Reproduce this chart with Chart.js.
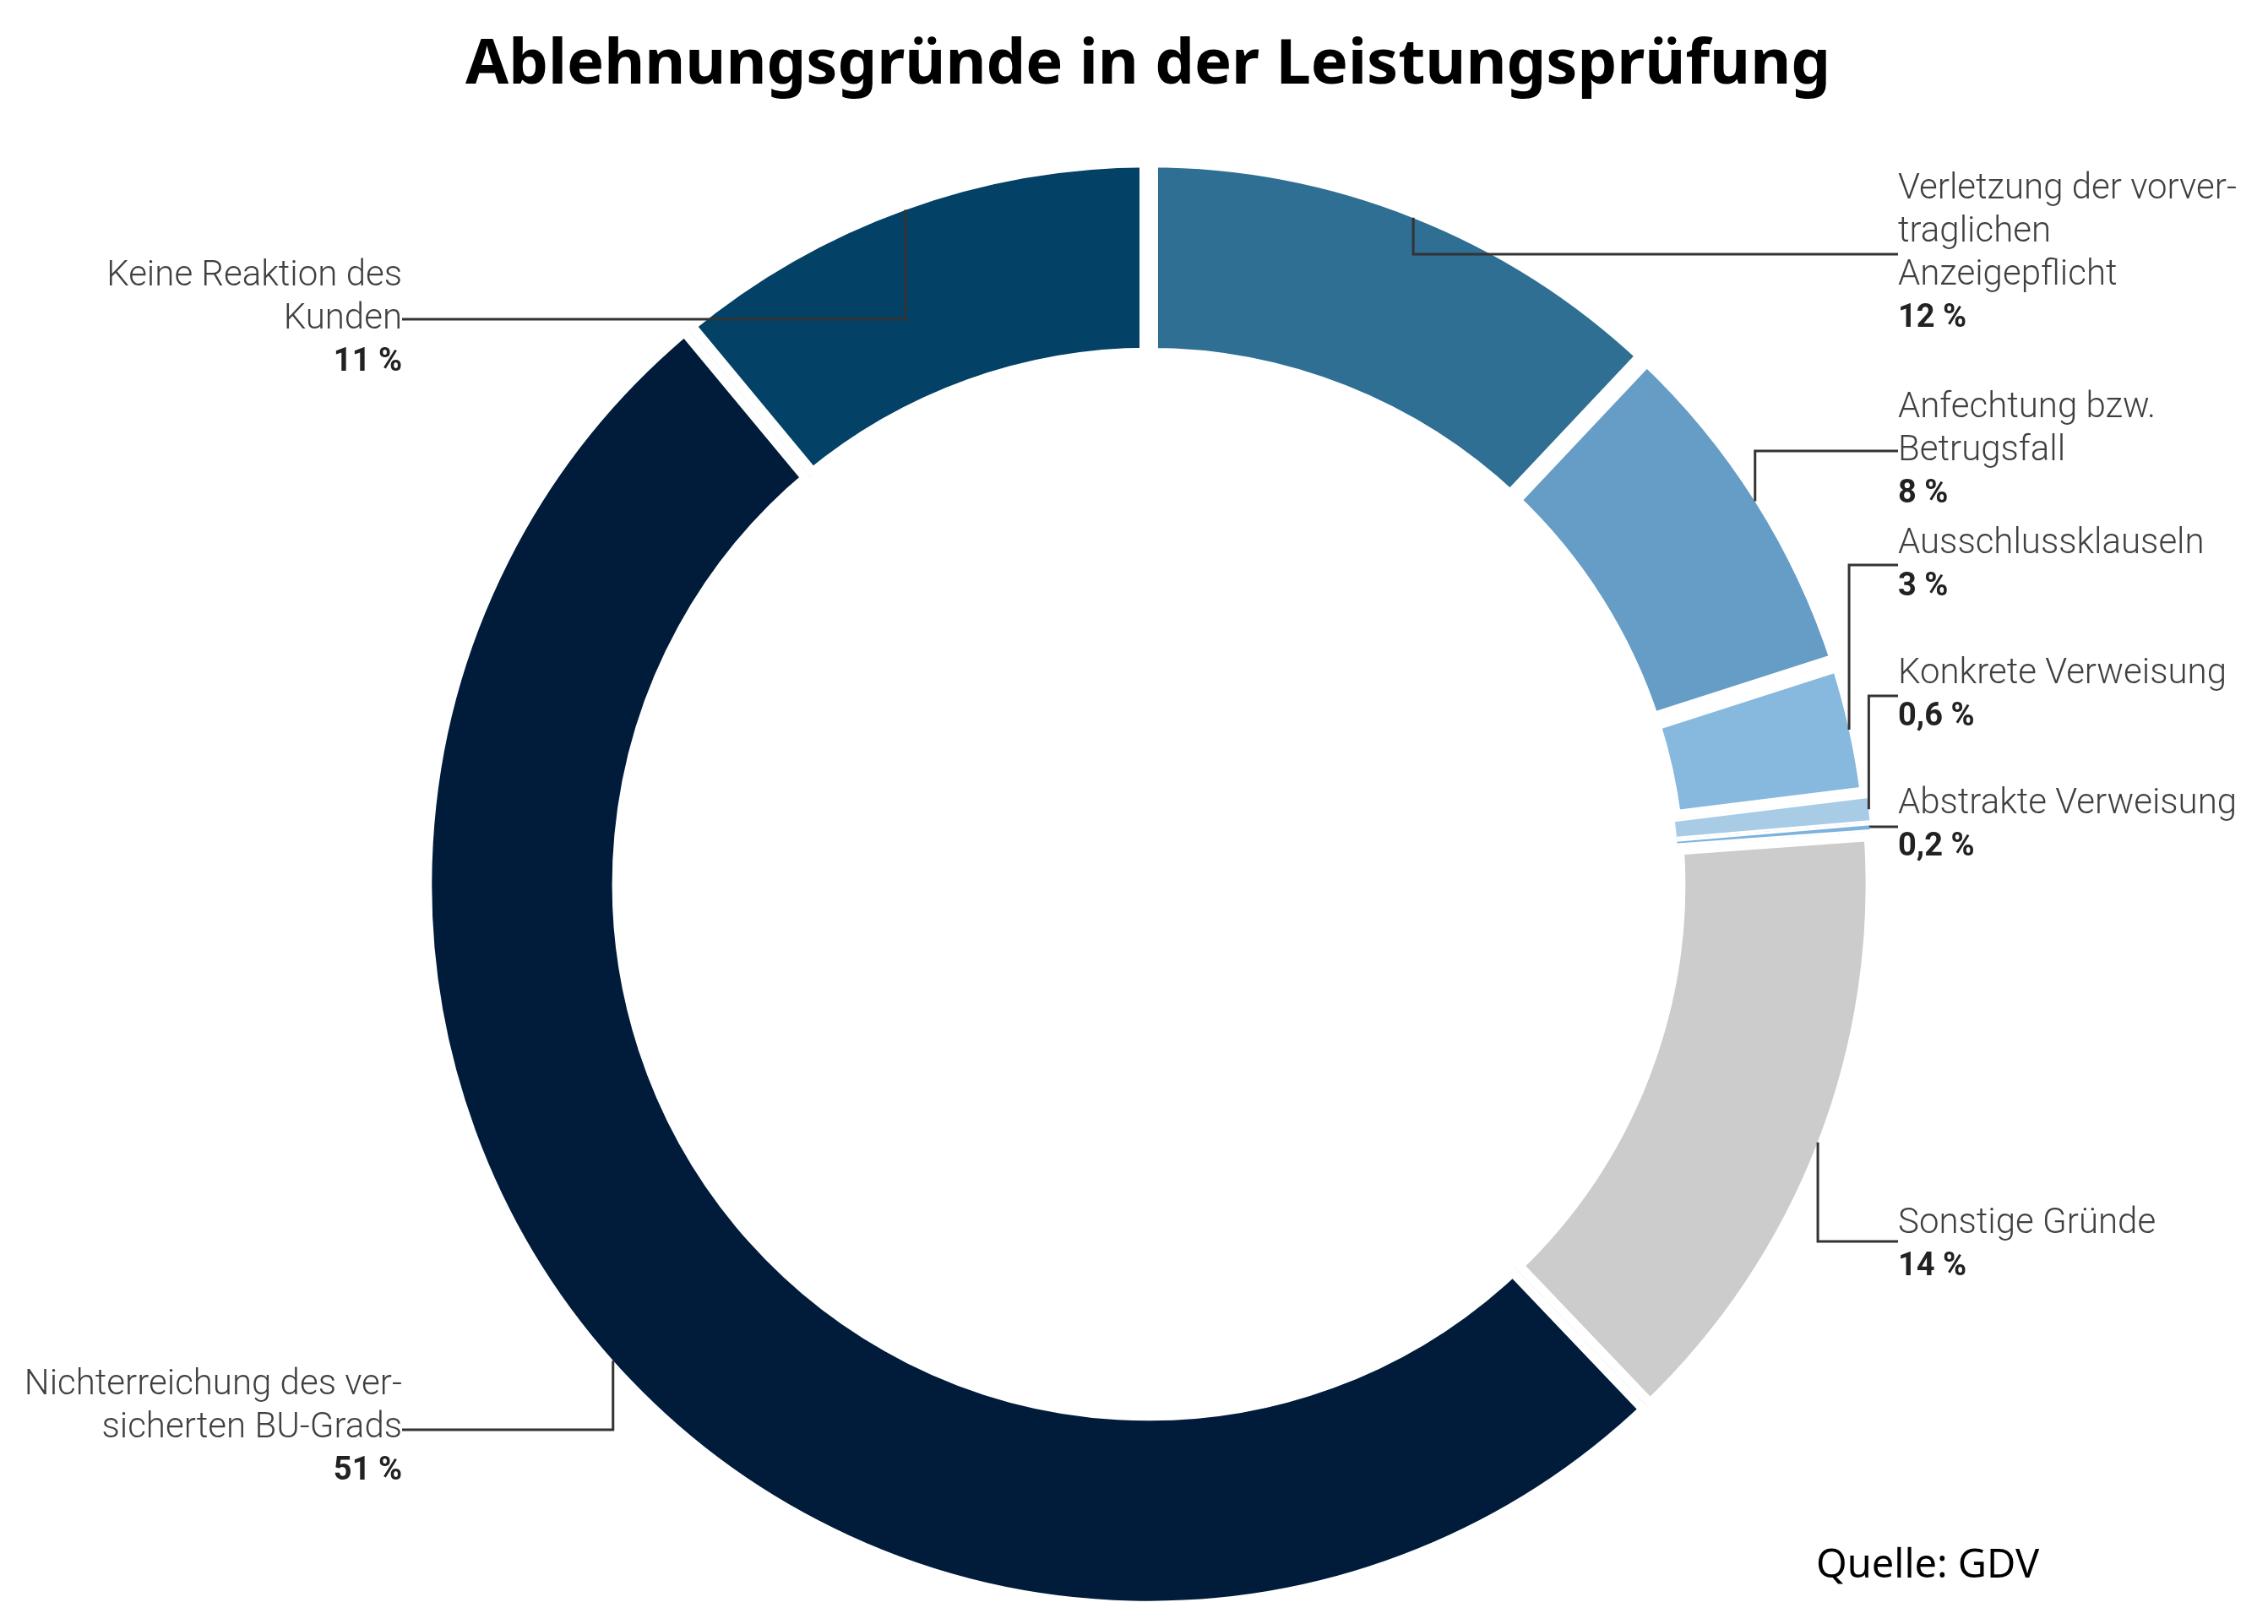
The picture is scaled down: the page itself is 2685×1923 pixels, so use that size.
<!DOCTYPE html>
<html>
<head>
<meta charset="utf-8">
<script src="https://cdn.jsdelivr.net/npm/chart.js@4.4.1/dist/chart.umd.min.js"></script>
<style>
html, body { margin: 0; padding: 0; background: #ffffff; overflow: hidden; }
#c { display: block; }
</style>
</head>
<body>
<canvas id="c" width="2685" height="1923"></canvas>
<script>
// ---------- data ----------
const categories = [
  'Verletzung der vorvertraglichen Anzeigepflicht',
  'Anfechtung bzw. Betrugsfall',
  'Ausschlussklauseln',
  'Konkrete Verweisung',
  'Abstrakte Verweisung',
  'Sonstige Gründe',
  'Nichterreichung des versicherten BU-Grads',
  'Keine Reaktion des Kunden'
];
const values = [12, 8, 3, 0.6, 0.2, 14, 51, 11];
const labelLines = [
  ['Verletzung der vorver-', 'traglichen', 'Anzeigepflicht'],
  ['Anfechtung bzw.', 'Betrugsfall'],
  ['Ausschlussklauseln'],
  ['Konkrete Verweisung'],
  ['Abstrakte Verweisung'],
  ['Sonstige Gründe'],
  ['Nichterreichung des ver-', 'sicherten BU-Grads'],
  ['Keine Reaktion des', 'Kunden']
];
const titleText = 'Ablehnungsgründe in der Leistungsprüfung';
const sourceText = 'Quelle: GDV';

// ---------- styles / layout ----------
const colors = ['#2F6F94', '#659DC7', '#87B8DE', '#A9CCE6', '#7DB2DD', '#CCCCCC', '#011C3B', '#034266'];
const gapWidths = [11, 11, 11, 3, 3, 11, 11, 11];
const labelLayout = [
  { side: 'right', x: 2247, y: 224,  leaderY: 301 },
  { side: 'right', x: 2247, y: 483,  leaderY: 534 },
  { side: 'right', x: 2247, y: 644,  leaderY: 669 },
  { side: 'right', x: 2247, y: 798,  leaderY: 824 },
  { side: 'right', x: 2247, y: 952,  leaderY: 979 },
  { side: 'right', x: 2247, y: 1449, leaderY: 1470 },
  { side: 'left',  x: 476,  y: 1640, leaderY: 1693 },
  { side: 'left',  x: 476,  y: 327,  leaderY: 378 }
];
const lineHeight = 51;
const labelFont = '300 42px Roboto';
const pctFont = 'bold 38px Roboto';

function fmtPct(v) { return String(v).replace('.', ',') + ' %'; }

// cleans the anti-aliased fringe left by the inner white borders at ring edges
const edgePlugin = {
  id: 'edgeClean',
  afterDatasetsDraw(chart) {
    const ctx = chart.ctx;
    const meta = chart.getDatasetMeta(0);
    const a = meta.data[0];
    if (!a) return;
    const p = a.getProps(['x', 'y', 'outerRadius', 'innerRadius'], true);
    ctx.save();
    ctx.strokeStyle = '#ffffff';
    ctx.lineWidth = 3;
    ctx.beginPath(); ctx.arc(p.x, p.y, p.outerRadius, 0, Math.PI * 2); ctx.stroke();
    ctx.beginPath(); ctx.arc(p.x, p.y, p.innerRadius, 0, Math.PI * 2); ctx.stroke();
    ctx.restore();
  }
};

const annotPlugin = {
  id: 'annot',
  afterDraw(chart) {
    const ctx = chart.ctx;
    const meta = chart.getDatasetMeta(0);
    ctx.save();
    // title
    ctx.fillStyle = '#000000';
    ctx.font = 'bold 74px "Noto Sans"';
    ctx.textAlign = 'center';
    ctx.textBaseline = 'alphabetic';
    ctx.fillText(titleText, 1359, 99);
    // source
    ctx.font = '47px "Noto Sans"';
    ctx.textAlign = 'left';
    ctx.fillText(sourceText, 2150, 1868);

    meta.data.forEach((arc, i) => {
      const p = arc.getProps(['x', 'y', 'startAngle', 'endAngle', 'outerRadius'], true);
      const mid = (p.startAngle + p.endAngle) / 2;
      const r = p.outerRadius - gapWidths[i];
      const ax = p.x + Math.cos(mid) * r;
      const ay = p.y + Math.sin(mid) * r;
      const L = labelLayout[i];
      ctx.strokeStyle = '#333333';
      ctx.lineWidth = 3;
      ctx.lineCap = 'butt';
      ctx.lineJoin = 'miter';
      ctx.beginPath();
      ctx.moveTo(ax, ay);
      ctx.lineTo(ax, L.leaderY);
      ctx.lineTo(L.x, L.leaderY);
      ctx.stroke();

      ctx.textAlign = L.side === 'right' ? 'left' : 'right';
      ctx.textBaseline = 'middle';
      const lines = labelLines[i];
      ctx.font = labelFont;
      ctx.fillStyle = '#404040';
      lines.forEach((t, k) => ctx.fillText(t, L.x, L.y + k * lineHeight));
      ctx.font = pctFont;
      ctx.fillStyle = '#222222';
      ctx.fillText(fmtPct(values[i]), L.x, L.y + lines.length * lineHeight);
    });
    ctx.restore();
  }
};

new Chart(document.getElementById('c'), {
  type: 'doughnut',
  data: {
    labels: categories,
    datasets: [{
      data: values,
      backgroundColor: colors,
      borderColor: '#ffffff',
      borderWidth: gapWidths,
      borderAlign: 'inner',
      hoverOffset: 0
    }]
  },
  options: {
    responsive: false,
    devicePixelRatio: 1,
    animation: false,
    cutout: 624,
    layout: { padding: { left: 500, right: 465, top: 187, bottom: 16 } },
    plugins: {
      legend: { display: false },
      tooltip: { enabled: false },
      title: { display: false }
    },
    events: []
  },
  plugins: [edgePlugin, annotPlugin]
});
</script>
</body>
</html>
